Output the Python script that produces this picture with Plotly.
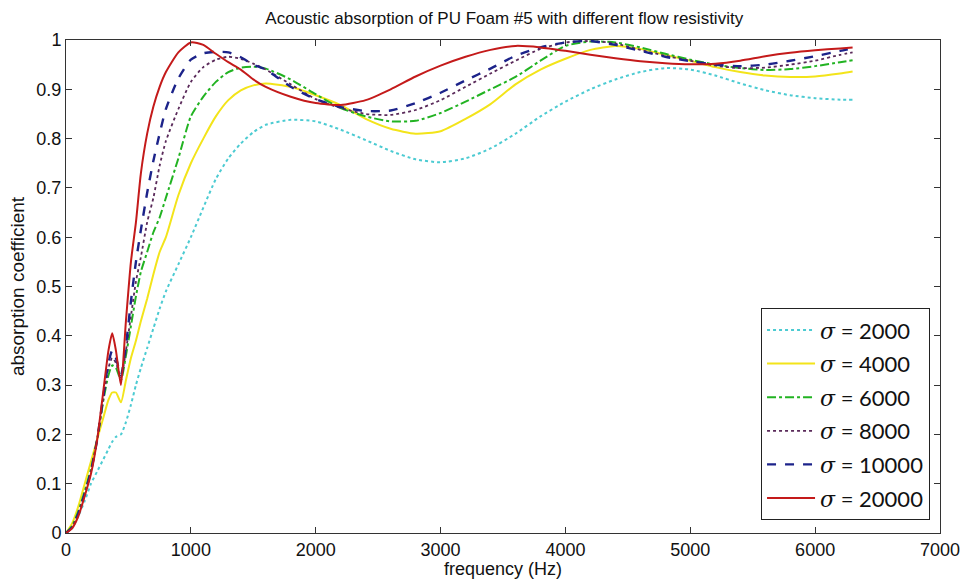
import plotly.graph_objects as go

freq = [0, 50, 100, 150, 200, 250, 300, 340, 370, 400, 440, 480, 520, 560, 600, 650, 700, 750, 800, 900,
        1000, 1100, 1200, 1300, 1400, 1500, 1600, 1800, 2000, 2200, 2400, 2600, 2800, 3000, 3200, 3400,
        3600, 3800, 4000, 4200, 4400, 4600, 4800, 5000, 5200, 5400, 5600, 5800, 6000, 6200, 6300]

sigma_2000 = [0, 0.01, 0.035, 0.065, 0.1, 0.125, 0.15, 0.17, 0.185, 0.195, 0.2, 0.225, 0.26, 0.3, 0.335, 0.375,
              0.415, 0.455, 0.49, 0.545, 0.6, 0.66, 0.718, 0.76, 0.79, 0.813, 0.828, 0.838, 0.835, 0.818, 0.797,
              0.775, 0.758, 0.752, 0.76, 0.78, 0.81, 0.845, 0.875, 0.9, 0.92, 0.935, 0.943, 0.94, 0.928, 0.912,
              0.898, 0.888, 0.882, 0.879, 0.879]
sigma_4000 = [0, 0.02, 0.055, 0.1, 0.145, 0.19, 0.235, 0.27, 0.285, 0.285, 0.265, 0.31, 0.355, 0.39, 0.43, 0.475,
              0.525, 0.57, 0.6, 0.685, 0.75, 0.8, 0.845, 0.878, 0.898, 0.908, 0.912, 0.905, 0.888, 0.868, 0.84,
              0.82, 0.81, 0.815, 0.84, 0.87, 0.91, 0.94, 0.962, 0.98, 0.988, 0.982, 0.97, 0.958, 0.945, 0.935,
              0.928, 0.925, 0.926, 0.932, 0.936]
sigma_6000 = [0, 0.015, 0.045, 0.085, 0.13, 0.19, 0.27, 0.32, 0.34, 0.335, 0.31, 0.36, 0.42, 0.48, 0.53, 0.57,
              0.61, 0.64, 0.68, 0.76, 0.845, 0.885, 0.915, 0.935, 0.944, 0.946, 0.942, 0.92, 0.89, 0.862, 0.845,
              0.835, 0.836, 0.852, 0.875, 0.9, 0.925, 0.958, 0.988, 0.997, 0.995, 0.985, 0.972, 0.96, 0.95, 0.943,
              0.939, 0.941, 0.947, 0.955, 0.959]
sigma_8000 = [0, 0.012, 0.042, 0.08, 0.125, 0.19, 0.275, 0.335, 0.355, 0.345, 0.315, 0.37, 0.44, 0.51, 0.56, 0.63,
              0.68, 0.745, 0.795, 0.86, 0.915, 0.945, 0.96, 0.966, 0.962, 0.952, 0.94, 0.91, 0.88, 0.862, 0.85,
              0.848, 0.858, 0.878, 0.905, 0.932, 0.958, 0.982, 0.995, 0.998, 0.993, 0.98, 0.968, 0.958, 0.948,
              0.943, 0.944, 0.95, 0.958, 0.97, 0.975]
sigma_10000 = [0, 0.012, 0.04, 0.08, 0.125, 0.19, 0.28, 0.345, 0.37, 0.355, 0.32, 0.38, 0.47, 0.55, 0.615, 0.69,
               0.755, 0.81, 0.86, 0.922, 0.96, 0.973, 0.976, 0.975, 0.965, 0.95, 0.94, 0.905, 0.88, 0.864, 0.856,
               0.857, 0.872, 0.893, 0.918, 0.942, 0.968, 0.985, 0.995, 0.998, 0.99, 0.978, 0.966, 0.957, 0.95,
               0.947, 0.95, 0.958, 0.967, 0.978, 0.983]
sigma_20000 = [0, 0.01, 0.035, 0.075, 0.12, 0.19, 0.29, 0.37, 0.405, 0.37, 0.3, 0.43, 0.55, 0.63, 0.73, 0.81,
               0.865, 0.905, 0.935, 0.975, 0.995, 0.99, 0.972, 0.955, 0.94, 0.92, 0.905, 0.885, 0.872, 0.868,
               0.878, 0.9, 0.926, 0.948, 0.966, 0.98, 0.988, 0.985, 0.978, 0.97, 0.963, 0.957, 0.953, 0.951,
               0.952, 0.958, 0.967, 0.974, 0.979, 0.983, 0.985]

labels = ["2000", "4000", "6000", "8000", "10000", "20000"]
series = [sigma_2000, sigma_4000, sigma_6000, sigma_8000, sigma_10000, sigma_20000]
colors = ["#4ccbd2", "#f3e41a", "#22b322", "#5a2a5a", "#1c238a", "#c41a1a"]
dashes = ["dot", "solid", "dashdot", "dot", "dash", "solid"]
widths = [2, 2, 2, 1.8, 2.4, 2]

fig = go.Figure()
for lab, ys, c, d, w in zip(labels, series, colors, dashes, widths):
    fig.add_trace(go.Scatter(
        x=freq, y=ys, mode="lines",
        line=dict(color=c, dash=d, width=w, shape="spline", smoothing=0.6),
        name='<span style="font-family:\'DejaVu Serif\'"><i>σ</i></span> = ' + lab,
        legendgroup=lab,
    ))

axis_common = dict(
    showline=True, linecolor="#333333", linewidth=1, mirror="ticks",
    ticks="inside", ticklen=6, tickcolor="#333333", showgrid=False, zeroline=False,
    automargin=False,
    tickfont=dict(family="Liberation Sans", size=18, color="#111111"),
)

fig.update_layout(
    width=966, height=579,
    margin=dict(l=66, r=26, t=40, b=46),
    paper_bgcolor="white", plot_bgcolor="white",
    title=dict(text="Acoustic absorption of PU Foam #5 with different flow resistivity",
               x=0.522, xanchor="center", y=0.968, yanchor="middle",
               font=dict(family="Liberation Sans", size=17, color="#111111")),
    xaxis=dict(range=[0, 7000], dtick=1000, tick0=0,
               title=dict(text="frequency (Hz)", standoff=2,
                          font=dict(family="Liberation Sans", size=18, color="#111111")),
               **axis_common),
    yaxis=dict(range=[0, 1], dtick=0.1, tick0=0,
               title=dict(text="absorption coefficient", standoff=6,
                          font=dict(family="Liberation Sans", size=19, color="#111111")),
               **axis_common),
    legend=dict(x=0.9886, xanchor="right", y=0.026, yanchor="bottom",
                bgcolor="white", bordercolor="#222222", borderwidth=1,
                font=dict(family="Lato", size=22, color="#111111"),
                tracegroupgap=2, itemwidth=48),
    showlegend=True,
)

fig.write_html("out.html")
